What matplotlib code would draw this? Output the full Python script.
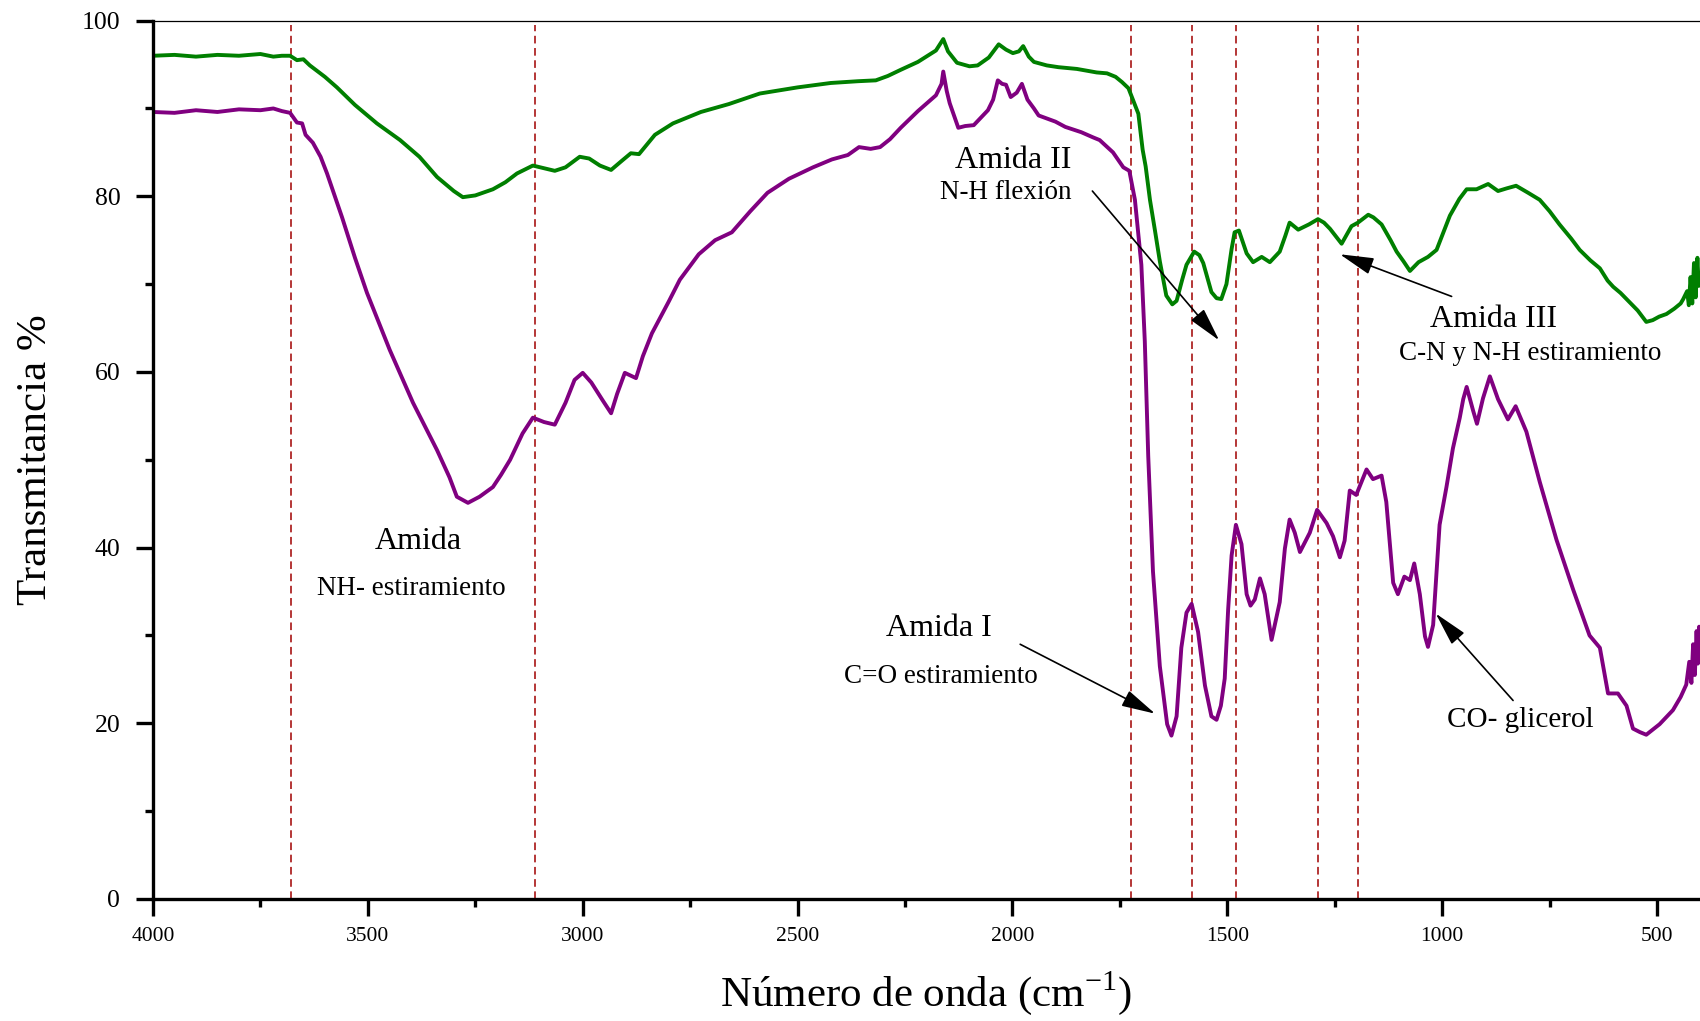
import numpy as np
import matplotlib
matplotlib.use("Agg")
import matplotlib.pyplot as plt
from matplotlib.ticker import MultipleLocator

plt.rcParams['font.family'] = ['Liberation Serif', 'DejaVu Serif']
plt.rcParams['mathtext.fontset'] = 'custom'
plt.rcParams['mathtext.rm'] = 'Liberation Serif'

# Espectro FTIR - muestra con glicerol (verde)
wn_green = [4000, 3950, 3900, 3850, 3800, 3750, 3720, 3700, 3681, 3665, 3650, 3635, 3600,
            3572, 3530, 3479, 3425, 3380, 3339, 3300, 3279, 3250, 3209, 3180, 3153, 3116,
            3090, 3065, 3040, 3007, 2985, 2960, 2934, 2910, 2888, 2869, 2832, 2790, 2725,
            2660, 2588, 2500, 2423, 2360, 2318, 2290, 2260, 2220, 2178, 2161, 2150, 2129,
            2100, 2081, 2055, 2032, 2015, 1999, 1985, 1975, 1962, 1950, 1920, 1893, 1850,
            1804, 1780, 1760, 1745, 1730, 1707, 1697, 1690, 1680, 1668, 1657, 1642, 1628,
            1618, 1605, 1595, 1577, 1565, 1556, 1537, 1525, 1514, 1502, 1490, 1483, 1473,
            1455, 1440, 1420, 1401, 1378, 1365, 1355, 1335, 1310, 1289, 1275, 1261, 1234,
            1211, 1196, 1172, 1160, 1141, 1120, 1106, 1090, 1075, 1055, 1033, 1013, 982,
            960, 943, 920, 893, 870, 850, 828, 800, 773, 750, 727, 700, 680, 655, 633, 615,
            602, 585, 571, 545, 525, 510, 495, 478, 460, 445, 439, 430, 426, 422, 418, 414,
            410, 406, 403, 400]
t_green = [96.0, 96.1, 95.9, 96.1, 96.0, 96.2, 95.9, 96.0, 96.0, 95.5, 95.6, 94.9, 93.6,
           92.4, 90.4, 88.3, 86.4, 84.5, 82.2, 80.6, 79.9, 80.1, 80.8, 81.6, 82.6, 83.5,
           83.2, 82.9, 83.3, 84.5, 84.3, 83.5, 83.0, 84.0, 84.9, 84.8, 87.0, 88.3, 89.6,
           90.5, 91.7, 92.4, 92.9, 93.1, 93.2, 93.7, 94.4, 95.3, 96.6, 97.9, 96.5, 95.2,
           94.8, 94.9, 95.8, 97.3, 96.7, 96.3, 96.5, 97.1, 95.9, 95.3, 94.9, 94.7, 94.5,
           94.1, 94.0, 93.6, 93.0, 92.3, 89.4, 85.3, 83.4, 79.6, 76.0, 72.6, 68.7, 67.7,
           68.1, 70.5, 72.2, 73.7, 73.3, 72.4, 69.1, 68.4, 68.3, 70.0, 74.0, 75.9, 76.1,
           73.5, 72.5, 73.1, 72.5, 73.7, 75.5, 77.0, 76.2, 76.8, 77.4, 77.0, 76.3, 74.6,
           76.6, 77.0, 77.9, 77.6, 76.8, 75.0, 73.7, 72.6, 71.5, 72.5, 73.1, 73.9, 77.8,
           79.7, 80.8, 80.8, 81.4, 80.6, 80.9, 81.2, 80.4, 79.6, 78.3, 76.8, 75.2, 73.9,
           72.7, 71.8, 70.4, 69.7, 69.0, 68.3, 67.0, 65.7, 65.9, 66.3, 66.6, 67.2, 67.8,
           68.3, 69.2, 67.6, 70.8, 67.8, 72.4, 68.5, 73.0, 69.8, 71.0]

# Espectro FTIR - muestra (morado)
wn_purple = [4000, 3950, 3900, 3850, 3800, 3750, 3720, 3700, 3681, 3665, 3653, 3645, 3628,
             3610, 3595, 3560, 3530, 3502, 3449, 3395, 3339, 3310, 3293, 3267, 3240, 3209,
             3190, 3169, 3140, 3116, 3090, 3065, 3040, 3019, 3000, 2980, 2954, 2934, 2920,
             2902, 2876, 2860, 2839, 2800, 2774, 2730, 2692, 2653, 2610, 2570, 2520, 2464,
             2420, 2383, 2357, 2330, 2308, 2285, 2260, 2220, 2178, 2165, 2161, 2153, 2146,
             2126, 2110, 2090, 2057, 2045, 2034, 2024, 2015, 2004, 1990, 1978, 1965, 1950,
             1939, 1900, 1877, 1840, 1812, 1797, 1766, 1742, 1728, 1715, 1700, 1692, 1684,
             1673, 1657, 1640, 1630, 1618, 1607, 1595, 1583, 1568, 1552, 1537, 1525, 1515,
             1506, 1498, 1490, 1480, 1467, 1455, 1446, 1436, 1424, 1413, 1397, 1378, 1366,
             1355, 1343, 1331, 1308, 1291, 1269, 1254, 1238, 1227, 1215, 1200, 1176, 1161,
             1141, 1130, 1114, 1103, 1088, 1075, 1065, 1052, 1040, 1033, 1021, 1006, 990,
             975, 959, 951, 943, 928, 919, 905, 889, 870, 847, 829, 804, 773, 734, 695, 657,
             633, 626, 614, 591, 571, 556, 540, 525, 494, 463, 445, 432, 425, 420, 416, 412,
             408, 405, 402, 400]
t_purple = [89.6, 89.5, 89.8, 89.6, 89.9, 89.8, 90.0, 89.7, 89.5, 88.4, 88.3, 87.0, 86.1,
            84.5, 82.6, 77.6, 73.0, 69.0, 62.5, 56.5, 51.1, 48.0, 45.8, 45.1, 45.8, 46.9,
            48.3, 50.0, 53.0, 54.8, 54.3, 54.0, 56.5, 59.1, 59.9, 58.8, 56.8, 55.3, 57.5,
            59.9, 59.3, 61.8, 64.4, 68.0, 70.5, 73.4, 75.0, 75.9, 78.3, 80.4, 82.0, 83.3,
            84.2, 84.7, 85.6, 85.4, 85.6, 86.5, 87.8, 89.7, 91.5, 92.8, 94.2, 92.0, 90.6,
            87.8, 88.0, 88.1, 89.8, 91.0, 93.2, 92.8, 92.7, 91.3, 91.8, 92.8, 91.0, 90.0,
            89.2, 88.5, 87.9, 87.3, 86.7, 86.4, 85.0, 83.3, 82.9, 79.6, 72.2, 63.5, 50.4,
            37.3, 26.5, 19.9, 18.6, 20.8, 28.6, 32.6, 33.6, 30.4, 24.3, 20.8, 20.4, 22.0,
            25.1, 33.0, 39.1, 42.6, 40.4, 34.7, 33.4, 34.1, 36.5, 34.7, 29.5, 33.8, 39.9,
            43.2, 41.7, 39.5, 41.7, 44.3, 42.8, 41.3, 38.9, 40.8, 46.5, 46.0, 48.9, 47.8,
            48.2, 45.2, 36.0, 34.7, 36.7, 36.3, 38.2, 34.7, 29.9, 28.7, 31.2, 42.6, 46.9,
            51.3, 54.8, 56.9, 58.3, 55.6, 54.1, 57.0, 59.5, 56.9, 54.6, 56.1, 53.2, 47.5,
            40.9, 35.2, 30.0, 28.6, 26.7, 23.4, 23.4, 22.0, 19.4, 19.0, 18.7, 19.9, 21.5,
            23.0, 24.4, 27.0, 24.6, 29.0, 25.5, 30.5, 26.8, 31.0, 29.5]

# bandas marcadas con lineas verticales
bands = [3680, 3112, 1725, 1581, 1480, 1288, 1197]

fig = plt.figure(figsize=(17, 10.21), dpi=100)
ax = fig.add_axes([0.09, 0.1195, 0.91, 0.8603])

for b in bands:
    ax.axvline(b, ymin=0, ymax=0.995, color='#a00000', lw=1.1,
               linestyle=(0, (5, 3)), zorder=1)

ax.plot(wn_green, t_green, color='#007f00', lw=2.8, zorder=2)
ax.plot(wn_purple, t_purple, color='#800080', lw=2.8, zorder=2)

ax.set_xlim(4000, 400)
ax.set_ylim(0, 100)

ax.xaxis.set_major_locator(MultipleLocator(500))
ax.xaxis.set_minor_locator(MultipleLocator(250))
ax.yaxis.set_major_locator(MultipleLocator(20))
ax.yaxis.set_minor_locator(MultipleLocator(10))

ax.spines['right'].set_visible(False)
ax.spines['top'].set_linewidth(0.9)
ax.spines['left'].set_linewidth(2.4)
ax.spines['bottom'].set_linewidth(2.4)

ax.tick_params(axis='both', which='major', direction='out', length=12.5, width=2.4)
ax.tick_params(axis='both', which='minor', direction='out', length=6, width=2.4)
ax.tick_params(axis='y', which='major', labelsize=18.5, pad=11)
ax.tick_params(axis='x', which='major', labelsize=15.5, pad=8)
ax.tick_params(top=False, right=False, which='both')

ax.set_xlabel('Número de onda (cm$^{\\mathregular{-1}}$)', fontsize=31)
ax.xaxis.label.set_va('center')
ax.xaxis.set_label_coords(0.5, -0.107)
ax.set_ylabel('Transmitancia %', fontsize=31)
ax.yaxis.label.set_va('center')
ax.yaxis.set_label_coords(-0.076, 0.5)

# etiquetas de las bandas
big = 23
small = 19.5
ax.text(3383, 40.7, 'Amida', fontsize=big, ha='center', va='center')
ax.text(3400, 35.3, 'NH- estiramiento', fontsize=small, ha='center', va='center')
ax.text(1998, 84.1, 'Amida II', fontsize=big, ha='center', va='center')
ax.text(2015, 80.4, 'N-H flexión', fontsize=small, ha='center', va='center')
ax.text(880, 66.0, 'Amida III', fontsize=big, ha='center', va='center')
ax.text(795, 62.1, 'C-N y N-H estiramiento', fontsize=small, ha='center', va='center')
ax.text(2172, 30.8, 'Amida I', fontsize=big, ha='center', va='center')
ax.text(2166, 25.3, 'C=O estiramiento', fontsize=small, ha='center', va='center')
ax.text(818, 20.4, 'CO- glicerol', fontsize=21, ha='center', va='center')

arrow = dict(arrowstyle='-|>,head_length=1.4,head_width=0.35', mutation_scale=15,
             lw=1.2, color='black', shrinkA=0, shrinkB=0)
ax.annotate('', xy=(1519, 63.6), xytext=(1814, 80.6), arrowprops=arrow)
ax.annotate('', xy=(1238, 73.4), xytext=(978, 68.6), arrowprops=arrow)
ax.annotate('', xy=(1668, 21.1), xytext=(1982, 29.0), arrowprops=arrow)
ax.annotate('', xy=(1015, 32.5), xytext=(835, 22.6), arrowprops=arrow)

plt.savefig('out.png', dpi=100)
